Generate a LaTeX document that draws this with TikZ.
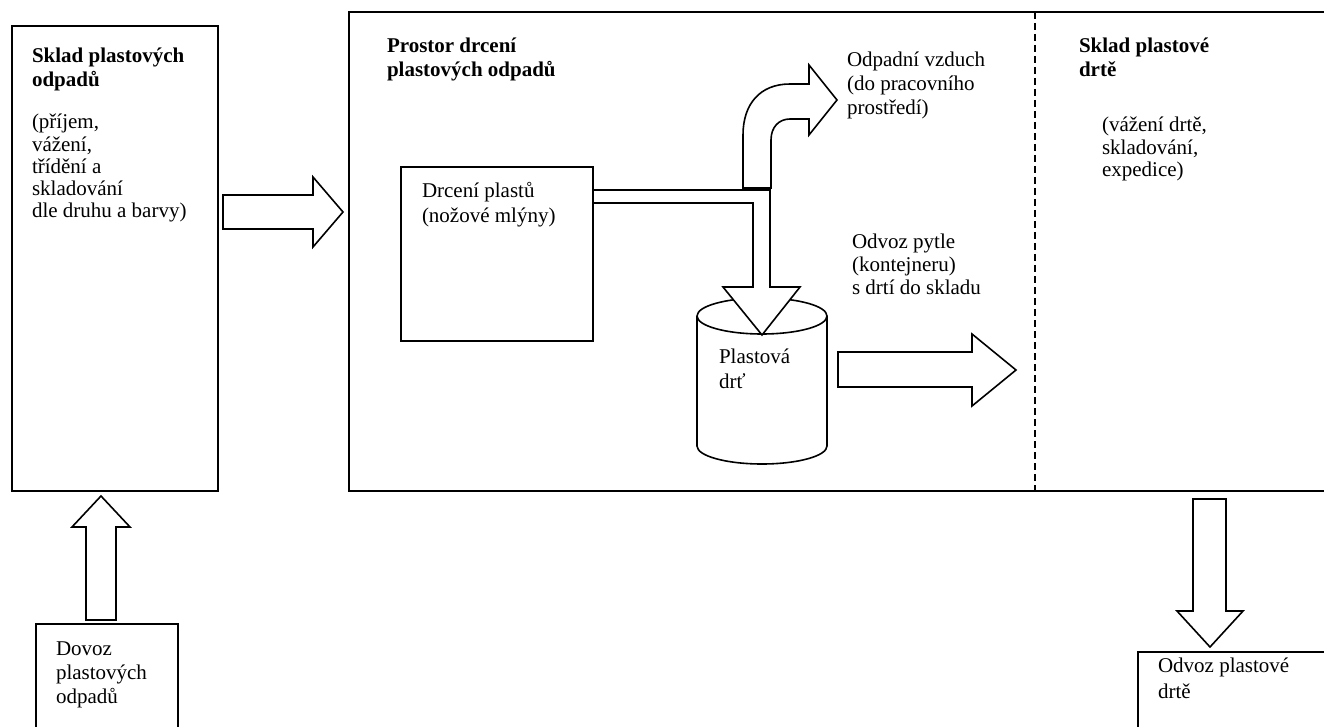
\documentclass[tikz,border=0pt]{standalone}
\usepackage{fontspec}
\setmainfont{Liberation Serif}
\begin{document}
\begin{tikzpicture}[x=1pt,y=-1pt,line width=1.6pt,line join=miter,
  every node/.style={inner sep=0pt,outer sep=0pt},
  boxx/.style={draw,anchor=north west},
  txt/.style={anchor=base west,align=left,font=\fontsize{21}{24}\selectfont},
  txtb/.style={txt,font=\fontsize{21}{24}\selectfont\bfseries},
  blockarrow/.style={draw,fill=white}]
\useasboundingbox (0,0) rectangle (1324,727);

% boxes
\node[boxx,minimum width=206pt,minimum height=465pt] (sklad) at (12,26) {};
\node[boxx,minimum width=1000pt,minimum height=479pt] (prostor) at (349,12) {};
\node[boxx,minimum width=192pt,minimum height=174pt] (drceni) at (401,167) {};
\node[boxx,minimum width=142pt,minimum height=130pt] (dovoz) at (36,624) {};
\node[boxx,minimum width=200pt,minimum height=110pt] (odvoz) at (1138,652) {};

% dashed divider
\coordinate (divtop) at (1035,12);
\coordinate (divbot) at (1035,491);
\draw[dash pattern=on 7pt off 4pt] (divtop) -- (divbot);

% cylinder
\draw[fill=white] (697,316) -- (697,446) arc[start angle=180,end angle=360,x radius=65pt,y radius=18pt] -- (827,316);
\draw (762,316) ellipse [x radius=65pt,y radius=18pt];
\coordinate (cyl) at (762,380);

% block arrows
\draw[blockarrow] (223,195) -- (313,195) -- (313,177) -- (343,212) -- (313,247) -- (313,229) -- (223,229) -- cycle;
\draw[blockarrow] (86,620) -- (86,527) -- (72,527) -- (101,496) -- (130,527) -- (116,527) -- (116,620) -- cycle;
\draw[blockarrow] (1193,499) -- (1226,499) -- (1226,611) -- (1243,611) -- (1210,647) -- (1177,611) -- (1193,611) -- cycle;
\draw[blockarrow] (838,352) -- (972,352) -- (972,334) -- (1016,370) -- (972,406) -- (972,387) -- (838,387) -- cycle;
% pipe from crusher into the container
\draw[blockarrow] (593,190) -- (770,190) -- (770,287) -- (800,287) -- (762,335) -- (723,287) -- (753,287) -- (753,203) -- (593,203) -- cycle;
% curved exhaust arrow
\draw[blockarrow] (743,188) -- (743,135) .. controls (743,104) and (760,84) .. (790,84) -- (809,84) -- (809,65) -- (837,100) -- (809,135) -- (809,119) -- (790,119) .. controls (779,119) and (771,127) .. (771,140) -- (771,188) -- cycle;

% texts (anchored at the baseline of the last line)
\node[txtb] (t1) at (32,87) {Sklad plastových\\odpadů};
\node[txt,font=\fontsize{21}{22.3}\selectfont] (t2) at (32,218) {(příjem,\\vážení,\\třídění a\\skladování\\dle druhu a barvy)};
\node[txtb] (t3) at (387,77) {Prostor drcení\\plastových odpadů};
\node[txt,font=\fontsize{21}{25}\selectfont] (t4) at (422,223) {Drcení plastů\\(nožové mlýny)};
\node[txt] (t5) at (847,115) {Odpadní vzduch\\(do pracovního\\prostředí)};
\node[txt,font=\fontsize{21}{23}\selectfont] (t6) at (852,294) {Odvoz pytle\\(kontejneru)\\s drtí do skladu};
\node[txt,font=\fontsize{21}{25}\selectfont] (t7) at (719,388) {Plastová\\drť};
\node[txtb] (t8) at (1079,77) {Sklad plastové\\drtě};
\node[txt,font=\fontsize{21}{22.5}\selectfont] (t9) at (1102,177) {(vážení drtě,\\skladování,\\expedice)};
\node[txt] (t10) at (56,703) {Dovoz\\plastových\\odpadů};
\node[txt,font=\fontsize{21}{26}\selectfont] (t11) at (1158,698) {Odvoz plastové\\drtě};
\end{tikzpicture}
\end{document}
